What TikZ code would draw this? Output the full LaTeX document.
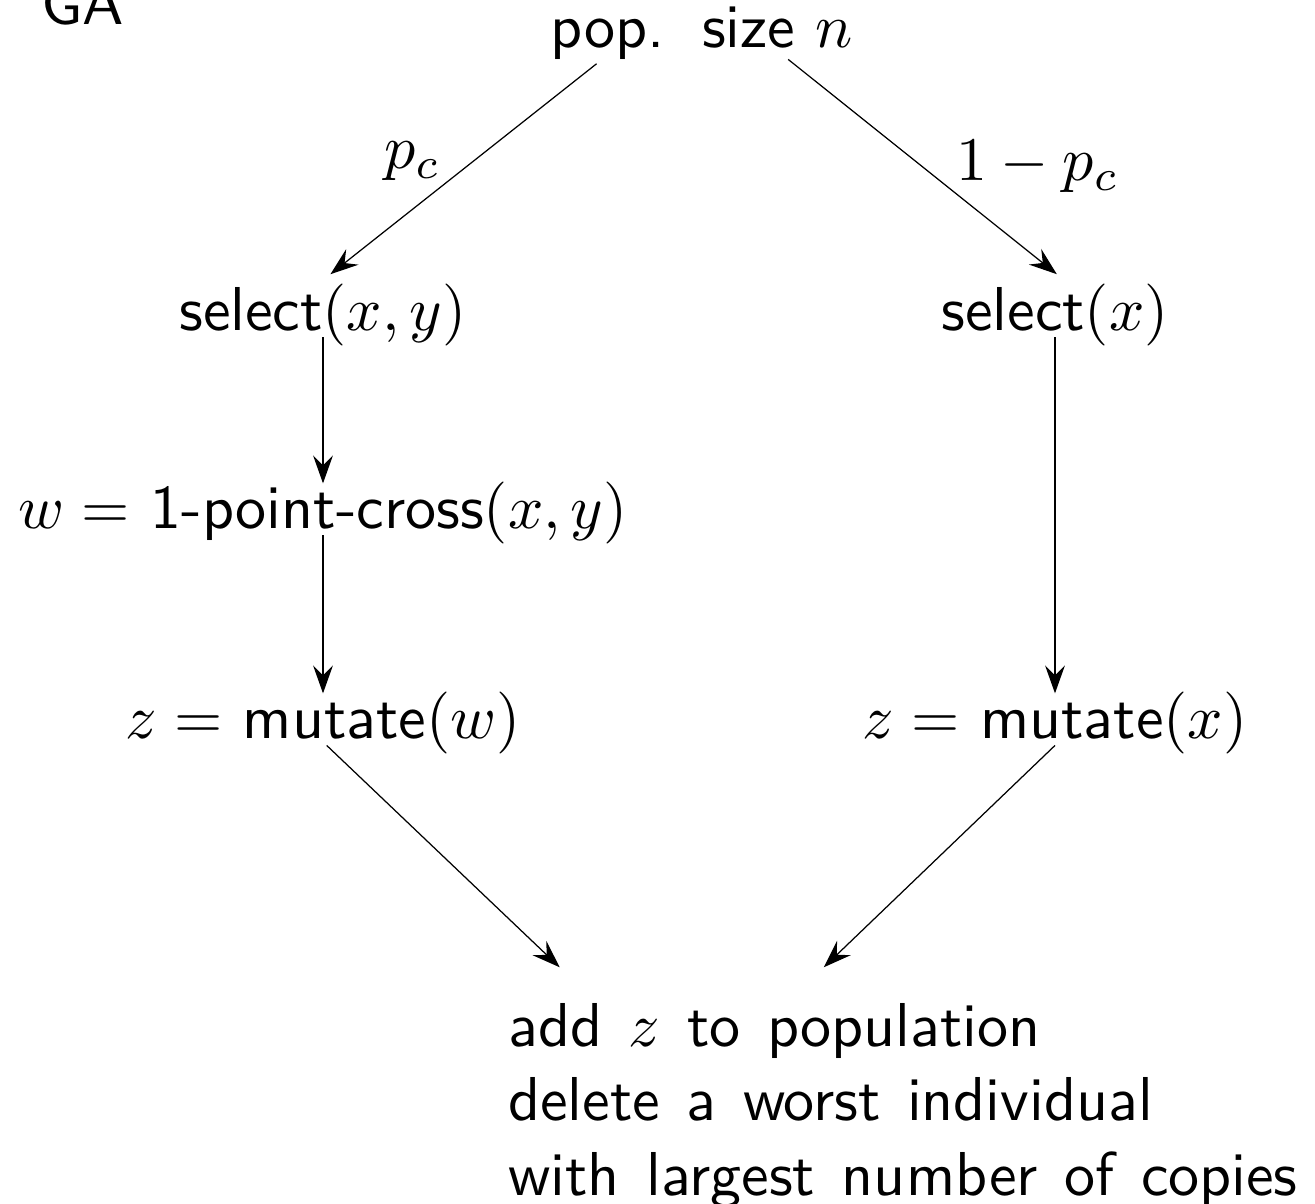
\documentclass[tikz,border=0pt]{standalone}
\usetikzlibrary{arrows.meta,calc}
\newcommand\widespace{\spaceskip=4.3pt\relax}
\tikzset{box/.style={inner sep=0pt, text height=7pt, text depth=1pt, font=\sffamily}}
\tikzset{line/.style={draw, line width=0.2pt, -{Stealth[length=4.5pt,width=3.2pt,inset=1.6pt]}}}
\tikzset{lbl/.style={inner sep=0pt, pos=0.5}}

\begin{document}
\begin{tikzpicture}[x=0.1613pt, y=-0.1613pt]
		\useasboundingbox (0,0) rectangle (1315,1204);

		\node [box, anchor=base west]	(GA) at (40,24)		{GA};
		\node [box, anchor=base]		(1) at (702,47)		{pop.\hspace{0.6em}size $n$};
		\node [box, anchor=base]		(2) at (323,330)	{select$(x,y)$};
		\node [box, anchor=base]		(3) at (1055,330)	{select$(x)$};
		\node [box, anchor=base]		(4) at (323,528)	{$w=$ 1-point-cross$(x,y)$};
		\node [box, anchor=base]		(5) at (323,738)	{$z=$ mutate$(w)$};
		\node [box, anchor=base]		(6) at (1055,738)	{$z=$ mutate$(x)$};
		\node [anchor=north west, inner sep=0pt, align=left, font=\sffamily\widespace]
										(7) at (507,1002)	{add $z$ to population\\ delete a worst individual\\ with largest number of copies};

		\path [line] ([xshift=-17pt,yshift=-1.5pt]1.south) -- node [lbl, left=3.6pt, yshift=1.2pt] (pc) {$p_c$} ([xshift=1.2pt,yshift=1.8pt]2.north);
		\path [line] ([xshift=13.9pt,yshift=-0.8pt]1.south) -- node [lbl, right=5.3pt] (qc) {$1-p_c$} ([xshift=0.3pt,yshift=1.8pt]3.north);
		\path [line] (2) -- (4);
		\path [line] (4) -- (5);
		\path [line] (3) -- (6);
		\path [line] ([xshift=0.6pt]5.south) -- ([xshift=8.5pt,yshift=5.6pt]7.north west);
		\path [line] (6.south) -- ([xshift=51.1pt,yshift=5.6pt]7.north west);
	\end{tikzpicture}
\end{document}
